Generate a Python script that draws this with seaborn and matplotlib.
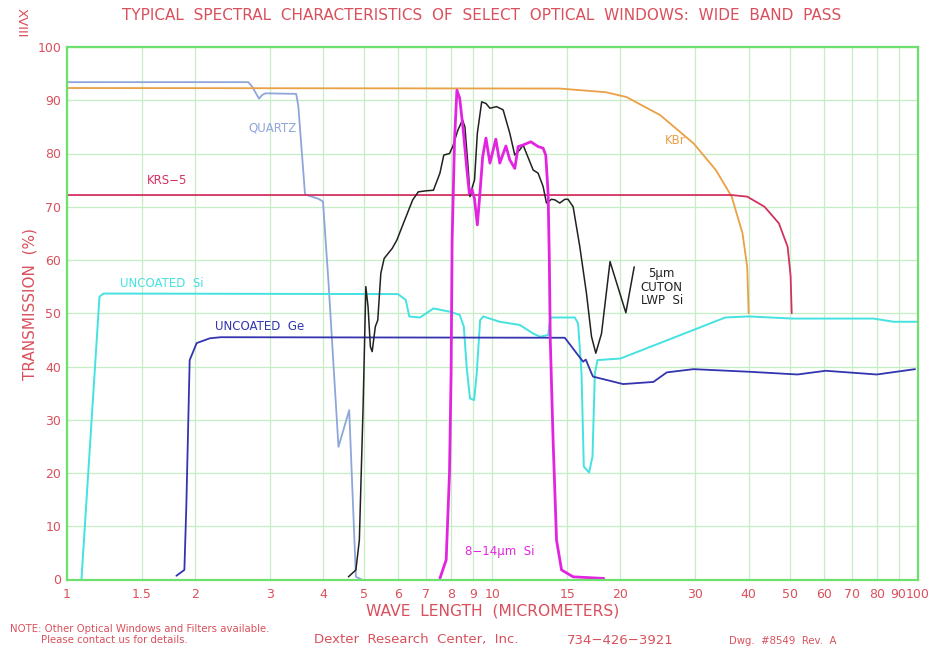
import numpy as np
import matplotlib
matplotlib.use("Agg")
import matplotlib.pyplot as plt
from matplotlib.ticker import FixedLocator, FixedFormatter, NullLocator
import seaborn as sns

# ---- data: wavelength (micrometers) and transmission (%) ----
quartz_wl = [1.0, 2.67, 2.73, 2.83, 2.88, 2.93, 3.46, 3.50, 3.63, 3.9, 4.0, 4.12, 4.35, 4.61, 4.78, 4.93]
quartz_t = [93.4, 93.4, 92.5, 90.3, 91.0, 91.3, 91.2, 89.0, 72.3, 71.5, 71.0, 56.0, 24.9, 31.8, 0.5, 0.0]

kbr_wl = [1.0, 14.4, 18.5, 20.67, 24.8, 29.7, 33.5, 36.5, 38.7, 39.7, 40.0]
kbr_t = [92.3, 92.2, 91.5, 90.6, 87.2, 81.9, 76.9, 71.9, 65.0, 58.7, 50.0]

krs5_wl = [1.0, 36.5, 39.7, 43.6, 47.1, 49.4, 50.2, 50.5]
krs5_t = [72.2, 72.2, 71.9, 70.0, 66.9, 62.5, 57.0, 50.0]

si_wl = [1.083, 1.194, 1.22, 6.0, 6.26, 6.38, 6.76, 7.27, 7.93, 8.38, 8.57, 8.70, 8.86,
         9.06, 9.19, 9.36, 9.52, 10.41, 11.60, 12.47, 12.93, 13.52, 13.70, 15.62, 15.90,
         16.20, 16.40, 16.88, 17.19, 17.41, 17.66, 20.0, 35.25, 40.0, 50.75, 78.6, 87.7, 100.0]
si_t = [0.0, 53.1, 53.7, 53.6, 52.5, 49.4, 49.2, 50.9, 50.3, 49.7, 47.5, 40.0, 34.0,
        33.7, 38.7, 48.7, 49.4, 48.4, 47.8, 46.2, 45.6, 45.9, 49.2, 49.2, 48.1,
        38.7, 21.2, 20.1, 23.1, 38.7, 41.2, 41.5, 49.2, 49.4, 49.0, 49.0, 48.4, 48.4]

ge_wl = [1.81, 1.89, 1.91, 1.945, 2.02, 2.17, 2.3, 14.8, 15.77, 16.34, 16.58, 17.10, 17.24,
         20.28, 23.9, 25.7, 29.7, 40.4, 52.1, 60.7, 80.0, 98.4]
ge_t = [0.7, 1.8, 13.7, 41.2, 44.4, 45.3, 45.5, 45.4, 42.5, 40.9, 41.3, 38.7, 38.1,
        36.7, 37.1, 38.9, 39.5, 39.0, 38.5, 39.2, 38.5, 39.5]

bp814_wl = [7.53, 7.79, 7.93, 8.0, 8.045, 8.15, 8.255, 8.38, 8.54, 8.70, 8.83, 8.95, 9.08,
            9.22, 9.35, 9.49, 9.66, 9.87, 10.19, 10.41, 10.76, 10.99, 11.29, 11.50, 11.81,
            12.31, 12.81, 13.16, 13.35, 13.52, 13.61, 13.68, 13.89, 14.15, 14.54, 15.48, 18.27]
bp814_t = [0.2, 3.7, 19.9, 38.7, 63.8, 82.5, 91.9, 90.4, 84.5, 77.5, 72.5, 73.3, 71.5,
           66.6, 72.5, 79.4, 82.9, 78.2, 82.7, 78.2, 81.4, 78.8, 77.2, 81.3, 81.6,
           82.2, 81.3, 81.0, 79.7, 72.5, 60.0, 45.0, 26.2, 7.4, 1.8, 0.5, 0.2]

lwp_wl = [4.59, 4.78, 4.87, 4.97, 5.044, 5.105, 5.17, 5.22, 5.31, 5.38, 5.47, 5.57, 5.82,
          5.97, 6.14, 6.50, 6.70, 7.0, 7.27, 7.53, 7.69, 7.93, 8.07, 8.30, 8.51, 8.62,
          8.78, 8.86, 8.98, 9.08, 9.22, 9.44, 9.66, 9.87, 10.23, 10.60, 10.99, 11.29,
          11.60, 11.81, 12.03, 12.47, 12.81, 13.16, 13.40, 13.77, 14.02, 14.40, 14.80,
          15.06, 15.48, 16.05, 16.64, 17.10, 17.50, 18.05, 18.9, 20.59, 21.54]
lwp_t = [0.5, 1.8, 7.4, 32.5, 55.0, 51.2, 43.7, 42.8, 47.5, 48.7, 57.5, 60.3, 62.2,
         63.8, 66.3, 71.3, 72.8, 73.0, 73.1, 76.3, 79.7, 80.0, 81.3, 84.4, 86.3, 85.0,
         76.9, 71.9, 73.8, 75.0, 83.8, 89.7, 89.4, 88.5, 88.8, 88.2, 83.8, 79.7,
         80.7, 81.6, 80.0, 76.9, 76.3, 73.8, 70.7, 71.4, 71.3, 70.7, 71.4,
         71.4, 70.0, 62.5, 53.7, 45.6, 42.5, 46.2, 59.7, 50.1, 58.7]

x_ticks = [1, 1.5, 2, 3, 4, 5, 6, 7, 8, 9, 10, 15, 20, 30, 40, 50, 60, 70, 80, 90, 100]
x_tick_labels = ["1", "1.5", "2", "3", "4", "5", "6", "7", "8", "9", "10", "15", "20",
                 "30", "40", "50", "60", "70", "80", "90", "100"]
y_ticks = [0, 10, 20, 30, 40, 50, 60, 70, 80, 90, 100]

# ---- style ----
RED = "#d9505c"
GRID = "#c6eec6"
FRAME = "#6ee06e"
C_QUARTZ = "#8ea6da"
C_KBR = "#eaa044"
C_KRS = "#d2325e"
C_SI = "#44e2e0"
C_GE = "#3434b0"
C_BP = "#e224e0"
C_LWP = "#222222"

sns.set_theme(style="white")
plt.rcParams["font.family"] = ["DejaVu Sans"]

W, H = 929, 649
fig = plt.figure(figsize=(W / 100, H / 100), dpi=100)
left, right, top, bottom = 66.7, 918.0, 47.0, 579.5
ax = fig.add_axes([left / W, 1 - bottom / H, (right - left) / W, (bottom - top) / H])

series = [
    (quartz_wl, quartz_t, C_QUARTZ, 1.3),
    (kbr_wl, kbr_t, C_KBR, 1.3),
    (krs5_wl, krs5_t, C_KRS, 1.3),
    (si_wl, si_t, C_SI, 1.4),
    (ge_wl, ge_t, C_GE, 1.3),
    (lwp_wl, lwp_t, C_LWP, 1.1),
    (bp814_wl, bp814_t, C_BP, 2.0),
]
for wl, t, col, lw in series:
    sns.lineplot(x=wl, y=t, ax=ax, color=col, linewidth=lw, sort=False, estimator=None)

ax.set_xscale("log")
ax.set_xlim(1, 100)
ax.set_ylim(0, 100)
ax.xaxis.set_major_locator(FixedLocator(x_ticks))
ax.xaxis.set_major_formatter(FixedFormatter(x_tick_labels))
ax.xaxis.set_minor_locator(NullLocator())
ax.set_yticks(y_ticks)
ax.tick_params(axis="both", length=0, colors=RED, labelsize=9)
ax.tick_params(axis="x", pad=6)
ax.tick_params(axis="y", pad=4)
ax.grid(True, color=GRID, linewidth=0.9)
ax.set_axisbelow(True)
for sp in ax.spines.values():
    sp.set_color(FRAME)
    sp.set_linewidth(1.6)
ax.set_xlabel("")
ax.set_ylabel("")

# curve labels
ax.text(3.05, 84.7, "QUARTZ", color=C_QUARTZ, fontsize=8.5, ha="center", va="center")
ax.text(26.9, 82.4, "KBr", color=C_KBR, fontsize=8.5, ha="center", va="center")
ax.text(1.72, 75.0, "KRS\u22125", color=C_KRS, fontsize=8.5, ha="center", va="center")
ax.text(1.67, 55.6, "UNCOATED  Si", color=C_SI, fontsize=8.5, ha="center", va="center")
ax.text(2.835, 47.5, "UNCOATED  Ge", color=C_GE, fontsize=8.5, ha="center", va="center")
ax.text(10.42, 5.2, "8\u221214\u03bcm  Si", color=C_BP, fontsize=8.5, ha="center", va="center")
ax.text(25.0, 54.9, "5\u03bcm\nCUTON\nLWP  Si", color=C_LWP, fontsize=8.5, ha="center",
        va="center", linespacing=1.05)

# page texts
def ftext(x, y, s, **kw):
    fig.text(x / W, 1 - y / H, s, color=RED, **kw)

ftext(482, 16, "TYPICAL  SPECTRAL  CHARACTERISTICS  OF  SELECT  OPTICAL  WINDOWS:  WIDE  BAND  PASS",
      fontsize=11, ha="center", va="center")
ftext(21, 23, "XVIII", fontsize=9.5, rotation=270, ha="center", va="center")
ftext(30, 304, "TRANSMISSION  (%)", fontsize=11, rotation=90, ha="center", va="center")
ftext(493, 611, "WAVE  LENGTH  (MICROMETERS)", fontsize=11.2, ha="center", va="center")
ftext(10, 629, "NOTE: Other Optical Windows and Filters available.", fontsize=7.3, ha="left", va="center")
ftext(41, 640, "Please contact us for details.", fontsize=7.3, ha="left", va="center")
ftext(416, 640, "Dexter  Research  Center,  Inc.", fontsize=9.5, ha="center", va="center")
ftext(620, 640, "734\u2212426\u22123921", fontsize=9.5, ha="center", va="center")
ftext(783, 641, "Dwg.  #8549  Rev.  A", fontsize=7.3, ha="center", va="center")

fig.savefig("out.png", dpi=100, facecolor="white")
